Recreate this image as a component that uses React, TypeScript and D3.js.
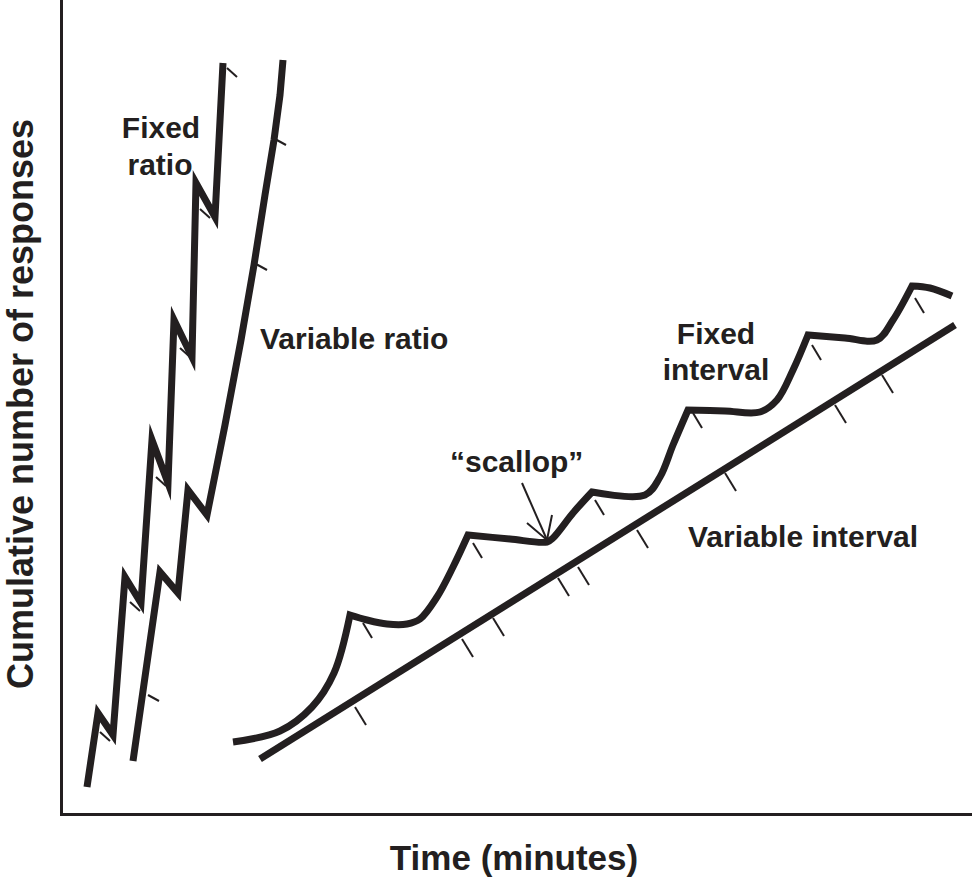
import { useEffect, useRef } from 'react';
import * as d3 from 'd3';

type Pt = [number, number];

// values: time units along x, cumulative responses along y
const fixedRatio: Pt[] = [
  [25, 28], [36, 102], [51, 80], [63, 238], [79, 212], [90, 375], [106, 332],
  [112, 495], [130, 458], [134, 632], [153, 598], [161, 752],
];
const fixedRatioTicks: Pt[] = [[38, 83], [68, 213], [94, 338], [118, 467], [138, 606], [165, 747]];

const variableRatio: Pt[] = [
  [71, 54], [98, 243], [116, 222], [126, 325], [145, 300], [163, 390], [179, 475],
  [192, 550], [203, 620], [212, 675], [218, 720], [221, 755],
];
const variableRatioTicks: Pt[] = [[86, 120], [194, 551], [213, 676]];

// one run per reinforcement: from one peak to the next
const fixedInterval: Pt[][] = [
  [[171, 73], [218, 84], [250, 108], [272, 142], [288, 200]],
  [[288, 200], [305, 195], [325, 191], [345, 191], [358, 196], [375, 218], [391, 248], [406, 280]],
  [[406, 280], [448, 276], [485, 273], [491, 277], [511, 302], [530, 323]],
  [[530, 323], [583, 320], [598, 338], [611, 370], [626, 405]],
  [[626, 405], [663, 404], [698, 403], [715, 415], [731, 445], [746, 480]],
  [[746, 480], [783, 477], [815, 475], [831, 495], [850, 529]],
  [[850, 529], [868, 527], [890, 519]],
];
const fixedIntervalTicks: Pt[] = [[301, 192], [411, 272], [533, 315], [631, 402], [750, 470], [853, 517]];

const variableInterval: Pt[] = [[198, 56], [893, 490]];
const variableIntervalTicks: Pt[] = [
  [293, 108], [400, 176], [431, 197], [496, 237], [516, 248], [575, 285], [663, 342], [773, 410], [820, 440],
];

const scallopArrow: Pt[] = [[460, 332], [485, 275]];
const scallopHead: Pt[] = [[465, 292], [485, 275], [490, 300]];

const labels: { text: string; at: Pt; anchor: string }[] = [
  { text: 'Fixed', at: [99, 677], anchor: 'middle' },
  { text: 'ratio', at: [98, 640], anchor: 'middle' },
  { text: 'Variable ratio', at: [198, 466], anchor: 'start' },
  { text: 'Fixed', at: [654, 471], anchor: 'middle' },
  { text: 'interval', at: [654, 435], anchor: 'middle' },
  { text: '\u201Cscallop\u201D', at: [388, 343], anchor: 'start' },
  { text: 'Variable interval', at: [626, 268], anchor: 'start' },
];

const INK = '#231f20';
const FONT = '"Liberation Sans", Arial, Helvetica, sans-serif';

export default function App() {
  const svgRef = useRef<SVGSVGElement>(null);

  useEffect(() => {
    const svg = d3.select(svgRef.current);
    svg.selectAll('*').remove();

    const width = 972;
    const height = 878;
    const x = d3.scaleLinear().domain([0, 910]).range([62, 972]);
    const y = d3.scaleLinear().domain([0, 815]).range([815, 0]);

    const line = d3.line<Pt>().x((d) => x(d[0])).y((d) => y(d[1]));

    // axes
    svg.append('line')
      .attr('x1', x(0) - 0.5).attr('x2', x(0) - 0.5)
      .attr('y1', 0).attr('y2', y(0) + 1)
      .attr('stroke', INK).attr('stroke-width', 3);
    svg.append('line')
      .attr('x1', x(0) - 2).attr('x2', width)
      .attr('y1', y(0) - 0.5).attr('y2', y(0) - 0.5)
      .attr('stroke', INK).attr('stroke-width', 3);

    const ticks = (pts: Pt[], dx: number, dy: number) => {
      svg.append('g')
        .selectAll('line')
        .data(pts)
        .join('line')
        .attr('x1', (d) => x(d[0]))
        .attr('y1', (d) => y(d[1]))
        .attr('x2', (d) => x(d[0]) + dx)
        .attr('y2', (d) => y(d[1]) + dy)
        .attr('stroke', INK)
        .attr('stroke-width', 2);
    };

    ticks(fixedRatioTicks, 10, 9);
    ticks(variableRatioTicks, 11, 6);
    ticks(fixedIntervalTicks, 9, 15);
    ticks(variableIntervalTicks, 11, 18);

    const thick = (d: string | null) =>
      svg.append('path')
        .attr('d', d)
        .attr('fill', 'none')
        .attr('stroke', INK)
        .attr('stroke-width', 7)
        .attr('stroke-linejoin', 'miter')
        .attr('stroke-miterlimit', 6);

    thick(line(fixedRatio));
    thick(line(variableRatio));
    thick(line(variableInterval));

    // scallops: smooth within each run, sharp corner at each reinforcement
    const p = d3.path();
    let started = false;
    const ctx = {
      moveTo(a: number, b: number) {
        if (!started) { p.moveTo(a, b); started = true; }
      },
      lineTo: (a: number, b: number) => p.lineTo(a, b),
      bezierCurveTo: (a: number, b: number, c: number, d: number, e: number, f: number) =>
        p.bezierCurveTo(a, b, c, d, e, f),
      closePath: () => {},
    };
    const smooth = d3.line<Pt>()
      .x((d) => x(d[0]))
      .y((d) => y(d[1]))
      .curve(d3.curveCatmullRom.alpha(0.5))
      .context(ctx as unknown as d3.Path);
    fixedInterval.forEach((seg) => smooth(seg));
    thick(p.toString());

    // scallop pointer
    svg.append('path').attr('d', line(scallopArrow))
      .attr('fill', 'none').attr('stroke', INK).attr('stroke-width', 2);
    svg.append('path').attr('d', line(scallopHead))
      .attr('fill', 'none').attr('stroke', INK).attr('stroke-width', 2);

    svg.append('g')
      .selectAll('text')
      .data(labels)
      .join('text')
      .attr('x', (d) => x(d.at[0]))
      .attr('y', (d) => y(d.at[1]))
      .attr('text-anchor', (d) => d.anchor)
      .attr('font-family', FONT)
      .attr('font-weight', 'bold')
      .attr('font-size', 30)
      .attr('fill', INK)
      .text((d) => d.text);

    svg.append('text')
      .attr('x', 514)
      .attr('y', 870)
      .attr('text-anchor', 'middle')
      .attr('font-family', FONT)
      .attr('font-weight', 'bold')
      .attr('font-size', 35)
      .attr('fill', INK)
      .text('Time (minutes)');

    svg.append('text')
      .attr('transform', `translate(33,${404}) rotate(-90)`)
      .attr('text-anchor', 'middle')
      .attr('font-family', FONT)
      .attr('font-weight', 'bold')
      .attr('font-size', 36)
      .attr('fill', INK)
      .text('Cumulative number of responses');

    svg.attr('viewBox', `0 0 ${width} ${height}`);
  }, []);

  return (
    <div style={{ position: 'absolute', left: 0, top: 0, width: 972, height: 878, background: '#fff' }}>
      <svg ref={svgRef} width={972} height={878} style={{ display: 'block' }} />
    </div>
  );
}
